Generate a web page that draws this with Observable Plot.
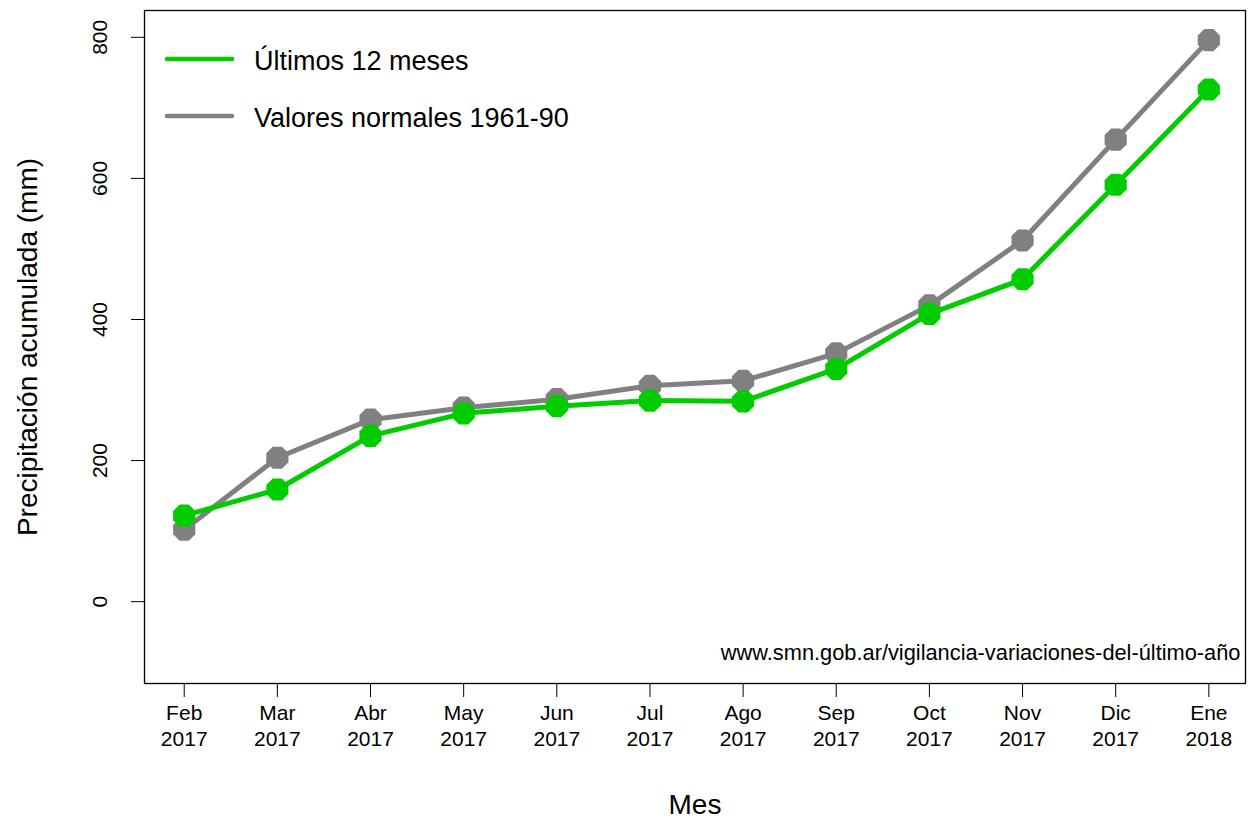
<!DOCTYPE html>
<html><head><meta charset="utf-8">
<script src="https://cdn.jsdelivr.net/npm/d3@7"></script>
<script src="https://cdn.jsdelivr.net/npm/@observablehq/plot@0.6"></script>
<style>
body{margin:0;background:#fff;}
svg{font-family:"Liberation Sans",Arial,sans-serif;}
</style>
</head><body><div id="chart"></div>
<script>
const months = ["Feb","Mar","Abr","May","Jun","Jul","Ago","Sep","Oct","Nov","Dic","Ene"];
const years = ["2017","2017","2017","2017","2017","2017","2017","2017","2017","2017","2017","2018"];
const ultimos = [122,159,235,267,277,285,284,330,408,457,591,726];
const normales = [102,204,258,275,287,306,313,352,420,512,655,796];
const yTicks = [0,200,400,600,800];
const seriesNames = ["Últimos 12 meses","Valores normales 1961-90"];
const seriesColors = ["#00cc00","#808080"];
const caption = "www.smn.gob.ar/vigilancia-variaciones-del-último-año";

const labels = months.map((m,i)=>m+"\n"+years[i]);
const rowsU = labels.map((l,i)=>({mes:l, valor:ultimos[i]}));
const rowsN = labels.map((l,i)=>({mes:l, valor:normales[i]}));

const octagon = {draw(ctx, size){
  const r = Math.sqrt(size/Math.PI);
  for(let i=0;i<8;i++){const a=Math.PI/8+i*Math.PI/4;const x=r*Math.cos(a),y=r*Math.sin(a); if(i) ctx.lineTo(x,y); else ctx.moveTo(x,y);}
  ctx.closePath();
}};

const legendMark = () => {
  const g = d3.create("svg:g");
  seriesNames.forEach((n,i)=>{
    const y = 59 + i*57;
    g.append("line").attr("x1",167).attr("x2",232).attr("y1",y).attr("y2",y)
      .attr("stroke",seriesColors[i]).attr("stroke-width",4.5).attr("stroke-linecap","round");
    g.append("text").attr("x",254).attr("y",y+2).attr("dy","0.35em")
      .attr("text-anchor","start")
      .attr("font-size",27).attr("fill","#000").text(n);
  });
  return g.node();
};

const chart = Plot.plot({
  width:1249, height:819,
  marginLeft:144, marginRight:4, marginTop:10, marginBottom:136,
  style:{fontFamily:"Liberation Sans, Arial, sans-serif", background:"#fff", color:"#000"},
  x:{type:"point", domain:labels, padding:0.41, align:0.52, round:false, label:null},
  y:{domain:[-116,838], label:null},
  marks:[
    Plot.frame({stroke:"#000", strokeWidth:1.3}),
    Plot.axisX({tickSize:14, tickPadding:4, fontSize:21, lineHeight:1.24, label:null, stroke:"#000"}),
    Plot.axisY({ticks:yTicks, tickSize:13, tickFormat:()=>"", label:null}),
    Plot.text(yTicks, {y:d=>d, text:d=>String(d), frameAnchor:"left", dx:-44, rotate:-90, textAnchor:"middle", lineAnchor:"middle", fontSize:21, fill:"#000"}),
    Plot.text(["Mes"], {frameAnchor:"bottom", dy:122, lineAnchor:"middle", fontSize:28, fill:"#000"}),
    Plot.text(["Precipitación acumulada (mm)"], {frameAnchor:"left", dx:-116, rotate:-90, textAnchor:"middle", lineAnchor:"middle", fontSize:28, fill:"#000"}),
    Plot.text([caption], {frameAnchor:"bottom-right", dx:-5, dy:-30, textAnchor:"end", lineAnchor:"middle", fontSize:21.8, fill:"#000"}),
    Plot.line(rowsN, {x:"mes", y:"valor", stroke:seriesColors[1], strokeWidth:5}),
    Plot.dot(rowsN, {x:"mes", y:"valor", fill:seriesColors[1], r:12, symbol:octagon}),
    Plot.line(rowsU, {x:"mes", y:"valor", stroke:seriesColors[0], strokeWidth:5}),
    Plot.dot(rowsU, {x:"mes", y:"valor", fill:seriesColors[0], r:12, symbol:octagon}),
    legendMark
  ]
});
document.getElementById("chart").appendChild(chart);
</script>
</body></html>
